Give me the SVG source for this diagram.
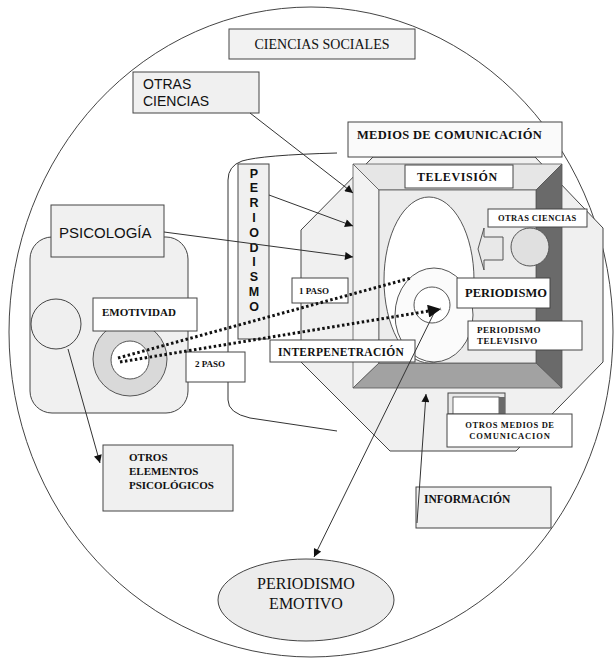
<svg xmlns="http://www.w3.org/2000/svg" width="615" height="659" viewBox="0 0 615 659">
<style>
.box{stroke:#444;stroke-width:1}
.w{fill:#fff}
.g{fill:#f0f0f0}
.ln{stroke:#333;stroke-width:1;fill:none}
.sb{font-family:"Liberation Serif","Times New Roman",serif;font-weight:bold;fill:#111}
.sr{font-family:"Liberation Serif","Times New Roman",serif;fill:#111}
.ss{font-family:"Liberation Sans",Arial,sans-serif;fill:#111}
.dot{stroke:#111;stroke-width:3;stroke-dasharray:2.5 2.5;fill:none}
</style>
<defs>
<marker id="ah" viewBox="0 0 10 10" refX="10" refY="5" markerWidth="10" markerHeight="8" markerUnits="userSpaceOnUse" orient="auto"><path d="M0,0 L10,5 L0,10 z" fill="#111"/></marker>
<marker id="ahb" viewBox="0 0 10 10" refX="10" refY="5" markerWidth="15" markerHeight="13" markerUnits="userSpaceOnUse" orient="auto"><path d="M0,0 L10,5 L0,10 z" fill="#111"/></marker>
</defs>
<rect width="615" height="659" fill="#fff"/>
<g id="ciencias-sociales-area">
<ellipse cx="311" cy="332" rx="302" ry="325" fill="#fff" stroke="#444" stroke-width="1"/>
</g>
<g id="psico-area">
<rect x="30" y="237" width="158" height="176" rx="22" ry="22" fill="#f0f0f0" stroke="#444" stroke-width="1"/>
<circle cx="56" cy="324" r="25" fill="#efefef" stroke="#444" stroke-width="1"/>
</g>
<g id="octagon">
<polygon points="373,157 535,157 603,228 603,362 516,451 390,451 301,362 301,230" fill="#f0f0f0" stroke="#444" stroke-width="1"/>
</g>
<g id="periodismo-bracket">
<path d="M337,153 Q262,155 242,161 Q228,166 228,180 L228,400 Q228,413 250,418 L337,431" class="ln"/>
</g>
<g id="periodismo-bar">
<rect x="238" y="164" width="31" height="175" class="box g"/>
<g class="ss" font-size="12.5" font-weight="bold" text-anchor="middle">
<text x="254" y="178">P</text><text x="254" y="192">E</text><text x="254" y="207">R</text><text x="254" y="222">I</text><text x="254" y="237">O</text><text x="254" y="252">D</text><text x="254" y="266">I</text><text x="254" y="281">S</text><text x="254" y="296">M</text><text x="254" y="311">O</text>
</g>
</g>
<g id="television">
<polygon points="353,164 562,164 536,190 379,190" fill="#e6e6e6" stroke="#555" stroke-width="0.8"/>
<polygon points="353,164 379,190 379,363 353,388" fill="#f2f2f2" stroke="#555" stroke-width="0.8"/>
<polygon points="562,164 562,388 536,363 536,190" fill="#6a6a6a" stroke="#555" stroke-width="0.8"/>
<polygon points="353,388 562,388 536,363 379,363" fill="#a2a2a2" stroke="#555" stroke-width="0.8"/>
<rect x="379" y="190" width="157" height="173" fill="#ececec" stroke="#555" stroke-width="0.8"/>
<ellipse cx="429" cy="280" rx="45" ry="83" fill="#fff" stroke="#555" stroke-width="1"/>
<ellipse cx="434" cy="315" rx="39" ry="47" fill="#fbfbfb" stroke="#555" stroke-width="1"/>
<circle cx="432" cy="305" r="18" fill="#fff" stroke="#555" stroke-width="1"/>
</g>
<g id="tv-label">
<rect x="405" y="165" width="108" height="23" class="box w"/>
<text x="417" y="181" class="sb" font-size="12" letter-spacing="0.6">TELEVISIÓN</text>
</g>
<g id="otras-ciencias-tv">
<circle cx="530" cy="247" r="19" fill="#e0e0e0" stroke="#555" stroke-width="1"/>
<polygon points="478,249 484,228 484,237 503,237 503,260 484,260 484,270" fill="#e8e8e8" stroke="#555" stroke-width="1"/>
<rect x="488" y="209" width="99" height="18" class="box w"/>
<text x="498" y="221" class="sb" font-size="8.5" letter-spacing="0.4">OTRAS CIENCIAS</text>
</g>
<g id="periodismo">
<rect x="457" y="278" width="93" height="30" class="box w"/>
<text x="465" y="297" class="sb" font-size="12.5">PERIODISMO</text>
</g>
<g id="periodismo-televisivo">
<rect x="468" y="321" width="114" height="29" class="box w"/>
<text x="477" y="333" class="sb" font-size="9" letter-spacing="0.5">PERIODISMO</text>
<text x="477" y="344" class="sb" font-size="9" letter-spacing="0.5">TELEVISIVO</text>
</g>
<g id="medios">
<rect x="348" y="122" width="214" height="35" fill="#fafafa" class="box"/>
<text x="357" y="139" class="sb" font-size="12.5" letter-spacing="0.3">MEDIOS DE COMUNICACIÓN</text>
</g>
<g id="ciencias-sociales">
<rect x="229" y="29" width="186" height="30" fill="#f2f2f2" class="box"/>
<text x="322" y="49" class="sr" font-size="14" text-anchor="middle">CIENCIAS SOCIALES</text>
</g>
<g id="otras-ciencias">
<rect x="133" y="72" width="126" height="41" class="box g"/>
<text x="143" y="89" class="ss" font-size="14">OTRAS</text>
<text x="143" y="106" class="ss" font-size="14">CIENCIAS</text>
</g>
<g id="psicologia">
<rect x="51" y="205" width="113" height="52" class="box g"/>
<text x="59" y="238" class="ss" font-size="15">PSICOLOGÍA</text>
</g>
<g id="emotividad">
<circle cx="130" cy="359" r="37" fill="#d9d9d9" stroke="#555" stroke-width="1"/>
<circle cx="130" cy="360" r="19" fill="#fff" stroke="#555" stroke-width="1"/>
<rect x="93" y="298" width="104" height="33" class="box w"/>
<text x="102" y="316" class="sb" font-size="11">EMOTIVIDAD</text>
</g>
<g id="paso1">
<rect x="292" y="278" width="56" height="25" class="box w"/>
<text x="299" y="294" class="sb" font-size="9">1 PASO</text>
</g>
<g id="paso2">
<rect x="186" y="352" width="59" height="30" class="box w"/>
<text x="195" y="367" class="sb" font-size="9">2 PASO</text>
</g>
<g id="interpenetracion">
<rect x="270" y="340" width="145" height="22" class="box w"/>
<text x="278" y="356" class="sb" font-size="11.5" letter-spacing="0.3">INTERPENETRACIÓN</text>
</g>
<g id="otros-medios">
<rect x="448" y="393" width="57" height="21" fill="#e8e8e8" stroke="#444" stroke-width="1"/>
<rect x="453" y="397" width="46" height="17" fill="#fff" stroke="#444" stroke-width="0.8"/>
<rect x="499" y="397" width="6" height="17" fill="#6a6a6a"/>
<rect x="447" y="414" width="125" height="33" class="box w"/>
<text x="510" y="428" class="sb" font-size="8.5" letter-spacing="0.6" text-anchor="middle">OTROS MEDIOS DE</text>
<text x="510" y="439" class="sb" font-size="8.5" letter-spacing="0.9" text-anchor="middle">COMUNICACION</text>
</g>
<g id="informacion">
<rect x="416" y="487" width="135" height="41" class="box g"/>
<text x="424" y="503" class="sb" font-size="11.5">INFORMACIÓN</text>
</g>
<g id="otros-elementos">
<rect x="103" y="445" width="130" height="66" class="box g"/>
<text x="129" y="461" class="sb" font-size="11">OTROS</text>
<text x="129" y="475" class="sb" font-size="11">ELEMENTOS</text>
<text x="129" y="489" class="sb" font-size="11">PSICOLÓGICOS</text>
</g>
<g id="periodismo-emotivo">
<ellipse cx="306" cy="600" rx="88" ry="41" fill="#ececec" stroke="#444" stroke-width="1"/>
<text x="306" y="589" class="sr" font-size="16" text-anchor="middle">PERIODISMO</text>
<text x="306" y="609" class="sr" font-size="16" text-anchor="middle">EMOTIVO</text>
</g>
<g id="connectors">
<line x1="250" y1="113" x2="353" y2="193" class="ln" marker-end="url(#ah)"/>
<line x1="269" y1="195" x2="353" y2="226" class="ln" marker-end="url(#ah)"/>
<line x1="164" y1="232" x2="353" y2="257" class="ln" marker-end="url(#ah)"/>
<line x1="68" y1="349" x2="100" y2="463" class="ln" marker-end="url(#ah)"/>
<line x1="417" y1="523" x2="426" y2="394" class="ln" marker-end="url(#ah)"/>
<line x1="435" y1="311" x2="314" y2="557" class="ln" marker-end="url(#ah)"/>
<line x1="118" y1="358" x2="411" y2="278" class="dot"/>
<line x1="120" y1="362" x2="441" y2="309" class="dot" marker-end="url(#ahb)"/>
</g>
</svg>
